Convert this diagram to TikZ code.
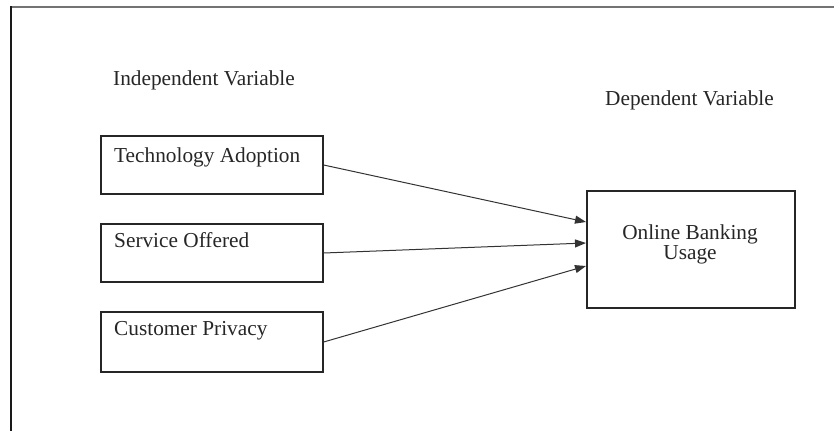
\documentclass[tikz,border=0pt]{standalone}
\usepackage{fontspec}
\setmainfont{Liberation Serif}
\usetikzlibrary{arrows.meta}
\begin{document}
\begin{tikzpicture}[x=1pt,y=-1pt,
  box/.style={draw=black!85, line width=1.3pt, minimum width=222pt, inner sep=0pt},
  lbl/.style={anchor=base west, inner sep=0pt, font=\fontsize{21.3}{20}\selectfont, text=black!85},
  conn/.style={draw=black!80, line width=1pt, -{Triangle[length=11pt,width=8pt]}}]
\useasboundingbox (0,0) rectangle (834,431);
% frame
\draw[black!55, line width=2.2pt] (11,7) -- (834,7);
\draw[black!90, line width=1.3pt] (11,6) -- (11,431);
% headings
\node[lbl] (iv) at (113,85) {Independent Variable};
\node[lbl] (dv) at (605,105) {Dependent Variable};
% boxes
\node[box, minimum height=58pt] (t1) at (212,165) {};
\node[box, minimum height=58pt] (t2) at (212,253) {};
\node[box, minimum height=60pt] (t3) at (212,342) {};
\node[draw=black!85, line width=1.3pt, minimum width=208pt, minimum height=117pt, inner sep=0pt] (o) at (691,249.5) {};
\node[lbl] (l1) at (114,162) {Technology Adoption};
\node[lbl] (l2) at (114,247) {Service Offered};
\node[lbl] (l3) at (114,335) {Customer Privacy};
\node[inner sep=0pt, align=center, font=\fontsize{21.3}{20}\selectfont, text=black!85, anchor=base] (ol) at (690,259) {Online Banking\\Usage};
% arrow targets
\coordinate (a1) at (586,222);
\coordinate (a2) at (586,243);
\coordinate (a3) at (586,266);
\draw[conn] (t1.east) -- (a1);
\draw[conn] (t2.east) -- (a2);
\draw[conn] (t3.east) -- (a3);
\end{tikzpicture}
\end{document}
